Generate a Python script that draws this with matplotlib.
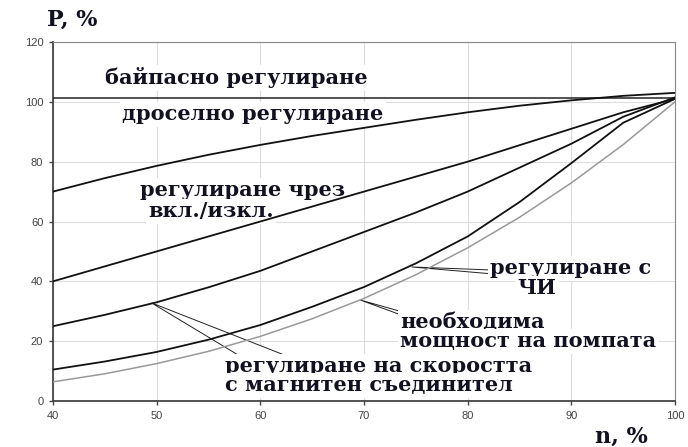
import matplotlib
matplotlib.use("Agg")
import matplotlib.pyplot as plt
from matplotlib.patches import Polygon
import numpy as np

# ---- data ----
n = [40, 45, 50, 55, 60, 65, 70, 75, 80, 85, 90, 95, 100]
bypass = [101.3] * len(n)
throttle = [70, 74.5, 78.6, 82.3, 85.6, 88.6, 91.3, 94, 96.5, 98.7, 100.5, 102, 103]
onoff = [40, 45, 50, 55, 60, 65, 70, 75, 80, 85.5, 91, 96.5, 101]
magnetic = [25, 28.8, 33, 38, 43.5, 50, 56.5, 63, 70, 78, 86, 95, 101.5]
vfd = [10.5, 13.2, 16.4, 20.5, 25.4, 31.5, 38.1, 46, 55, 66.5, 79.5, 93, 101]
required = [6.4, 9.1, 12.5, 16.6, 21.6, 27.5, 34.3, 42.2, 51.2, 61.4, 72.9, 85.7, 100]

x_ticks = [40, 50, 60, 70, 80, 90, 100]
y_ticks = [0, 20, 40, 60, 80, 100, 120]

fig = plt.figure(figsize=(6.88, 4.47), dpi=100)
ax = fig.add_axes([53/688, 1-401/447, 622/688, 359/447])

ax.set_xlim(40, 100)
ax.set_ylim(0, 120)
ax.set_xticks(x_ticks)
ax.set_yticks(y_ticks)
ax.grid(True, color='#dddddd', lw=0.8)
ax.set_axisbelow(True)
for lab in ax.get_xticklabels() + ax.get_yticklabels():
    lab.set_fontfamily('Liberation Sans')
    lab.set_fontsize(8)
    lab.set_color('#444444')
ax.tick_params(length=3, width=1, color='#444444', pad=4)
ax.spines['left'].set_color('#444444')
ax.spines['bottom'].set_color('#444444')
ax.spines['left'].set_linewidth(1.3)
ax.spines['bottom'].set_linewidth(1.3)
ax.spines['top'].set_color('#888888')
ax.spines['right'].set_color('#888888')

ax.plot(n, bypass, color='#222222', lw=1.1, zorder=3)
ax.plot(n, throttle, color='#111111', lw=1.3, zorder=3)
ax.plot(n, onoff, color='#111111', lw=1.3, zorder=3)
ax.plot(n, magnetic, color='#111111', lw=1.3, zorder=3)
ax.plot(n, vfd, color='#111111', lw=1.3, zorder=3)
ax.plot(n, required, color='#999999', lw=1.1, zorder=3)

# callout wedges
def wedge(tip, t1, t2):
    p = Polygon([tip, t1, t2], closed=True, fc='white', ec='#222222', lw=0.7, zorder=2)
    ax.add_patch(p)

wedge((n[7] - 0.4, vfd[7] - 1.2), (83, 43.7), (83, 42.3))
wedge((n[6] - 0.4, required[6] - 0.5), (74.5, 29.0), (74.5, 27.6))
wedge((n[2] - 0.5, magnetic[2] - 0.2), (59, 13), (64.5, 12.4))

tf = dict(family='DejaVu Serif', weight='bold', fontsize=15, color='#111122',
          transform=fig.transFigure, zorder=2.5, clip_on=False)
bb = dict(boxstyle='square,pad=0.12', fc='white', ec='none')

def ftxt(px, py, s, ha='left', box=True, **kw):
    d = dict(tf)
    d.update(kw)
    t = ax.text(px/688, 1-py/447, s, ha=ha, va='center', **d)
    if box:
        t.set_bbox(bb)
    return t

ftxt(47, 20, 'P, %', box=False, fontsize=16)
ftxt(595, 437, 'n, %', box=False, fontsize=16)
ftxt(105, 78, 'байпасно регулиране')
ftxt(122, 114, 'дроселно регулиране')
ftxt(140, 190, 'регулиране чрез')
ftxt(148, 211, 'вкл./изкл.')
ftxt(490, 268, 'регулиране с')
ftxt(517, 288, 'ЧИ')
ftxt(400, 322, 'необходима')
ftxt(400, 341, 'мощност на помпата')
ftxt(225, 366, 'регулиране на скоростта')
ftxt(225, 385, 'с магнитен съединител')

fig.savefig('out.png', dpi=100, facecolor='white')
